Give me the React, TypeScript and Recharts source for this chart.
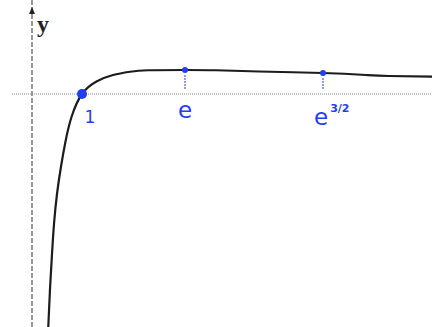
import React from "react";
import {
  LineChart,
  Line,
  XAxis,
  YAxis,
  ReferenceLine,
  ReferenceDot,
} from "recharts";

// curve (x units: 1 = position of "1", y units same scale)
const curveX = [
  0.31, 0.36, 0.4, 0.44, 0.5, 0.58, 0.67, 0.79, 1, 1.29, 1.62, 1.96, 2.32,
  3.06, 3.68, 4.54, 5.82, 6.68, 7.14, 8.1,
];
const curveY = [
  -5.0, -3.9, -3.2, -2.6, -2.0, -1.45, -0.95, -0.46, 0, 0.25, 0.38, 0.445,
  0.475, 0.48, 0.475, 0.45, 0.42, 0.38, 0.36, 0.345,
];

// marked points and their handwritten labels
const markX = [1, 3.06, 5.82];
const markY = [0, 0.48, 0.42];
const markLabels = ["1", "e", "e^3/2"];

const data = curveX.map((x, i) => ({ x, y: curveY[i] }));

const BLUE = "#1f3ff0";
const HAND = "'Comic Sans MS', 'DejaVu Sans', sans-serif";

const MarkLabel = (props: any) => {
  const { viewBox, text } = props;
  const cx = viewBox.x;
  const axisY = 94;
  if (text === "1") {
    return (
      <text x={cx + 8} y={axisY + 29} fill={BLUE} fontFamily={HAND} fontSize={17} textAnchor="middle">
        1
      </text>
    );
  }
  if (text === "e") {
    return (
      <text x={cx} y={axisY + 24} fill={BLUE} fontFamily={HAND} fontSize={23} textAnchor="middle">
        e
      </text>
    );
  }
  return (
    <text x={cx - 9} y={axisY + 31} fill={BLUE} fontFamily={HAND} fontSize={23} textAnchor="start">
      e
      <tspan dx={2} dy={-13} fontSize={11} fontWeight="bold">
        3/2
      </tspan>
    </text>
  );
};

const YLabel = (props: any) => {
  const { viewBox } = props;
  const x = viewBox.x;
  return (
    <g>
      <path d={`M${x - 3},${14} L${x},${7} L${x + 3},${14} Z`} fill="#222" />
      <text x={x + 5} y={32} fontFamily="'Liberation Serif', serif" fontWeight="bold" fontSize={24} fill="#222">
        y
      </text>
    </g>
  );
};

export default function App() {
  return (
    <div style={{ position: "fixed", left: 0, top: 0, background: "#fff" }}>
      <LineChart
        width={432}
        height={327}
        data={data}
        margin={{ top: 0, right: 0, bottom: 0, left: 0 }}
      >
        <XAxis dataKey="x" type="number" domain={[-0.64, 8]} hide allowDataOverflow />
        <YAxis type="number" domain={[-4.66, 1.88]} hide allowDataOverflow />
        <ReferenceLine x={0} stroke="#555" strokeWidth={1.2} strokeDasharray="5 2" label={<YLabel />} />
        <ReferenceLine
          segment={[{ x: -0.4, y: 0 }, { x: 8, y: 0 }]}
          stroke="#888"
          strokeWidth={1}
          strokeDasharray="1 1"
        />
        {markX.slice(1).map((mx, i) => (
          <ReferenceLine
            key={"t" + i}
            segment={[{ x: mx, y: markY[i + 1] - 0.1 }, { x: mx, y: 0.08 }]}
            stroke={BLUE}
            strokeWidth={1}
            strokeDasharray="2 1"
          />
        ))}
        <Line
          dataKey="y"
          type="natural"
          stroke="#1c1c1c"
          strokeWidth={2.2}
          dot={false}
          activeDot={false}
          isAnimationActive={false}
        />
        {markX.map((mx, i) => (
          <ReferenceDot
            key={"d" + i}
            x={mx}
            y={markY[i]}
            r={i === 0 ? 5 : 3}
            fill={BLUE}
            stroke={BLUE}
            strokeWidth={0}
          />
        ))}
        {markX.map((mx, i) => (
          <ReferenceLine
            key={"l" + i}
            segment={[{ x: mx, y: 0 }, { x: mx, y: 0 }]}
            stroke="none"
            label={<MarkLabel text={markLabels[i]} />}
          />
        ))}
      </LineChart>
    </div>
  );
}
